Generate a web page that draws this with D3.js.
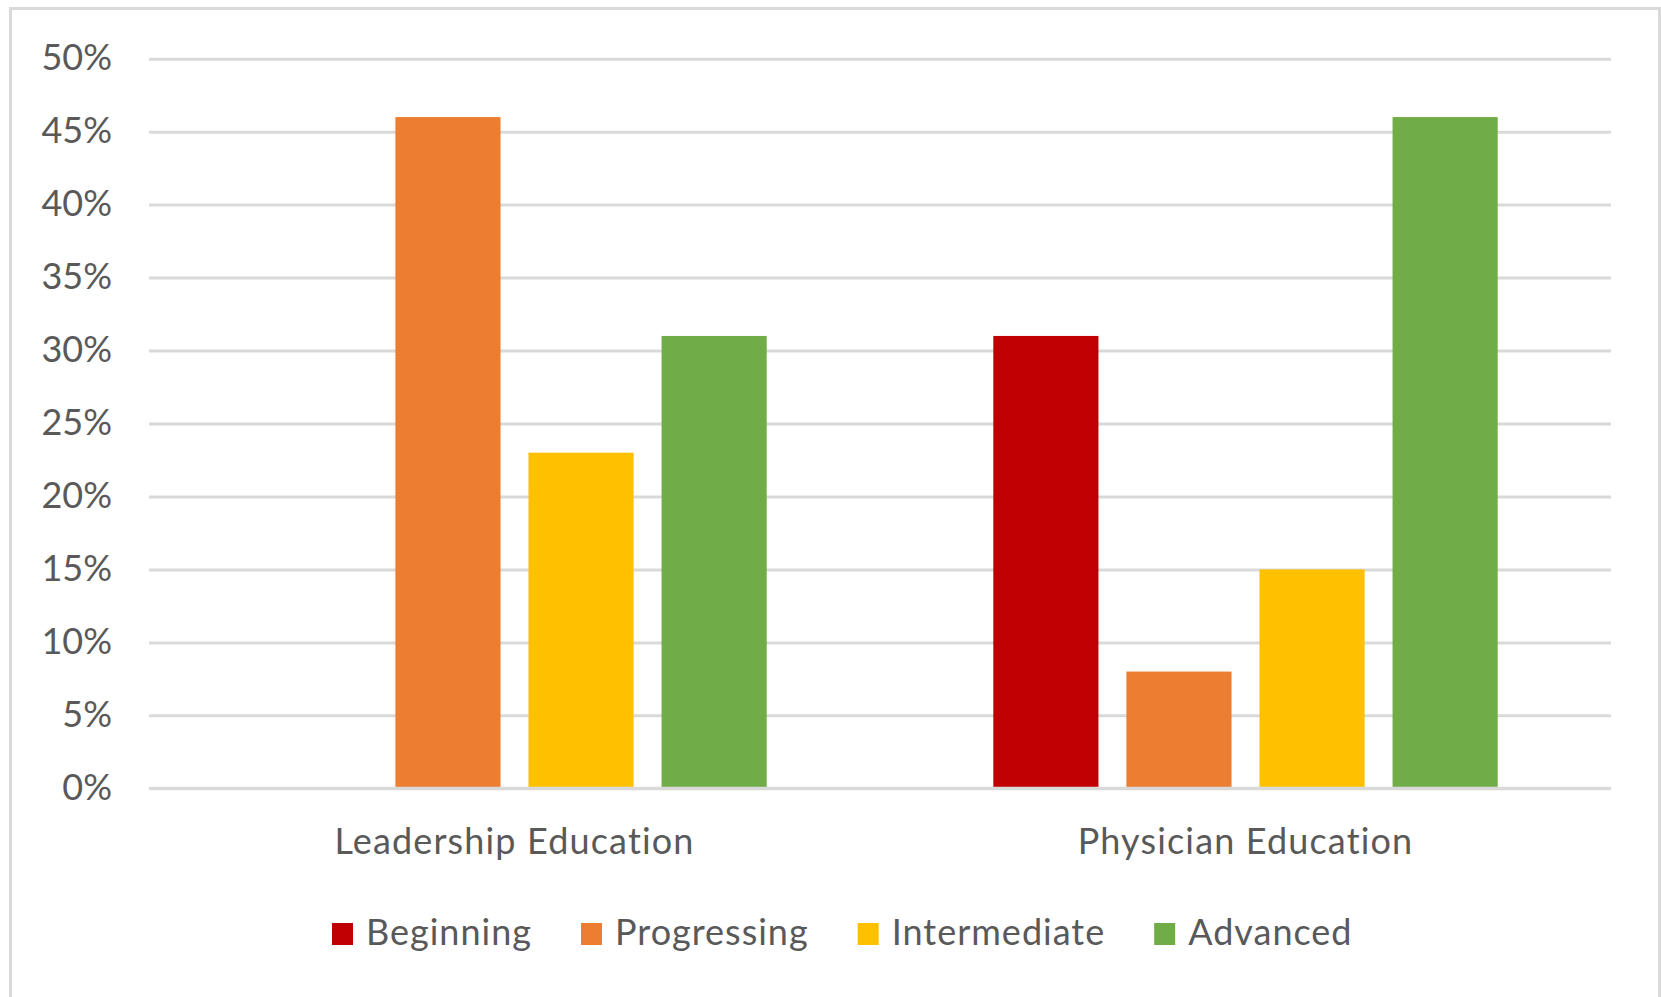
<!DOCTYPE html>
<html>
<head>
<meta charset="utf-8">
<script src="https://cdn.jsdelivr.net/npm/d3@7"></script>
<style>
  html, body { margin: 0; padding: 0; background: #ffffff; }
  svg { display: block; }
  text { font-family: Lato, "Open Sans", sans-serif; fill: #595959; }
</style>
</head>
<body>
<svg id="chart" width="1661" height="997"></svg>
<script>
// ---- data ----
const categories = ["Leadership Education", "Physician Education"];
const seriesNames = ["Beginning", "Progressing", "Intermediate", "Advanced"];
const seriesColors = ["#C00000", "#ED7D31", "#FFC000", "#70AD47"];
const beginning    = [0.00, 0.31];
const progressing  = [0.46, 0.08];
const intermediate = [0.23, 0.15];
const advanced     = [0.31, 0.46];
const yTicks = [0, 0.05, 0.10, 0.15, 0.20, 0.25, 0.30, 0.35, 0.40, 0.45, 0.50];

const seriesValues = [beginning, progressing, intermediate, advanced];
const rows = categories.map((c, i) => ({
  category: c,
  values: seriesNames.map((s, j) => ({ series: s, value: seriesValues[j][i] }))
}));

// ---- layout ----
const W = 1661, H = 997;
const plot = { left: 149, right: 1611, top: 58.7, bottom: 788.3 };
const fontSize = 36;
const wordSpacing = "1.15px";

const svg = d3.select("#chart");

// outer chart border
svg.append("rect")
  .attr("x", 10.5).attr("y", 8.5)
  .attr("width", 1649).attr("height", 1000)
  .attr("fill", "#ffffff")
  .attr("stroke", "#d9d9d9").attr("stroke-width", 3);

const y = d3.scaleLinear().domain([0, 0.5]).range([plot.bottom, plot.top]);
const x0 = d3.scaleBand().domain(categories).range([plot.left, plot.right])
  .paddingInner(0.31).paddingOuter(0.155);
const x1 = d3.scaleBand().domain(seriesNames).range([0, x0.bandwidth()])
  .paddingInner(0.21).paddingOuter(0);
const color = d3.scaleOrdinal().domain(seriesNames).range(seriesColors);

// gridlines
const yAxis = d3.axisLeft(y).tickValues(yTicks)
  .tickSize(-(plot.right - plot.left))
  .tickFormat(d3.format(".0%"))
  .tickPadding(37);
const gy = svg.append("g")
  .attr("transform", `translate(${plot.left},0)`)
  .call(yAxis);
gy.select(".domain").remove();
gy.selectAll(".tick line").attr("stroke", "#d9d9d9").attr("stroke-width", 3);
gy.selectAll(".tick text")
  .attr("fill", "#595959")
  .style("font-family", "Lato, 'Open Sans', sans-serif")
  .style("font-size", fontSize + "px")
  .attr("dy", "0.3em");

// bars
const groups = svg.append("g").selectAll("g")
  .data(rows).join("g")
  .attr("transform", d => `translate(${x0(d.category)},0)`);
groups.selectAll("rect")
  .data(d => d.values).join("rect")
  .attr("x", d => x1(d.series))
  .attr("width", x1.bandwidth())
  .attr("y", d => y(d.value))
  .attr("height", d => y(0) - y(d.value))
  .attr("fill", d => color(d.series));

// zero line on top
svg.append("line")
  .attr("x1", plot.left).attr("x2", plot.right)
  .attr("y1", y(0)).attr("y2", y(0))
  .attr("stroke", "#d9d9d9").attr("stroke-width", 3);

// category labels
const xAxis = d3.axisBottom(x0).tickSize(0).tickPadding(0);
const gx = svg.append("g")
  .attr("transform", `translate(0,${plot.bottom})`)
  .call(xAxis);
gx.select(".domain").remove();
gx.selectAll(".tick text")
  .attr("fill", "#595959")
  .attr("dy", null)
  .attr("y", 66)
  .style("font-family", "Lato, 'Open Sans', sans-serif")
  .style("font-size", fontSize + "px")
  .style("letter-spacing", wordSpacing);

// legend
const legend = svg.append("g").attr("transform", "translate(0,945)");
let lx = 332;
seriesNames.forEach((s, i) => {
  legend.append("rect")
    .attr("x", lx).attr("y", -22)
    .attr("width", 21).attr("height", 22)
    .attr("fill", color(s));
  const t = legend.append("text")
    .attr("x", lx + 34).attr("y", 0)
    .style("font-size", fontSize + "px")
    .style("letter-spacing", "1px")
    .text(s);
  const w = t.node().getComputedTextLength();
  lx = lx + 34 + w + 49;
});
</script>
</body>
</html>
